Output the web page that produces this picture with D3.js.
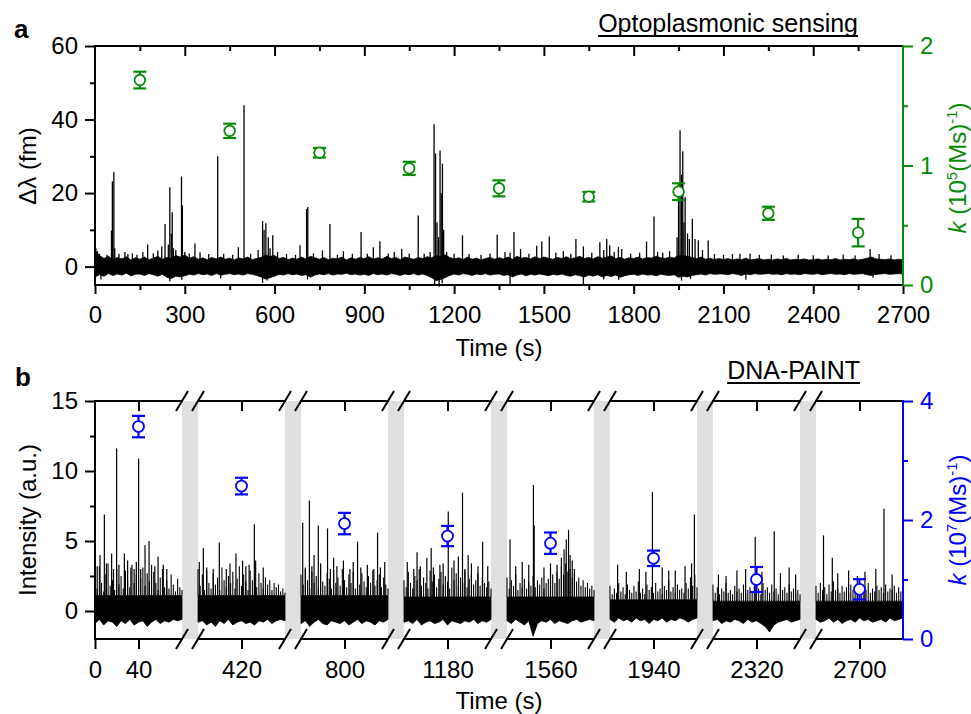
<!DOCTYPE html>
<html><head><meta charset="utf-8">
<script src="https://cdn.jsdelivr.net/npm/d3@7"></script>
<style>body{margin:0;background:#fff} svg text{font-family:"Liberation Sans",Arial,sans-serif}</style>
</head><body><svg id="c" width="971" height="714"></svg>
<script>
// ---------------- DATA ----------------
// Panel a (optoplasmonic sensing)
const aTicks = [0,300,600,900,1200,1500,1800,2100,2400,2700];
const aMinorTicks = [150,450,750,1050,1350,1650,1950,2250,2550];
const aYTicks = [0,20,40,60];
const aYMinor = [10,30,50];
const aKTicks = [0,1,2];
const aKMinor = [0.5,1.5];
const aNoiseStep = 15; // s between envelope samples (upper / lower edge of the noise)
const aNoiseHi = [
  4.5,3.0,2.2,2.8,1.9,2.5,2.1,2.7,1.8,2.4, 2.0,2.6,1.9,2.3,2.8,2.0,2.5,2.2,3.0,2.6,
  3.2,2.3,2.7,2.0,2.4,1.9,2.5,2.1,2.6,2.0, 2.3,1.8,2.4,2.1,2.6,1.9,2.2,2.5,3.2,2.8,
  3.0,2.2,2.5,1.9,2.3,2.0,2.6,2.1,2.8,2.4, 2.0,2.5,1.9,2.3,2.1,2.6,1.8,2.4,2.0,2.5,
  2.2,2.7,2.0,2.4,2.1,2.8,2.2,2.5,1.9,2.6, 2.3,2.0,2.5,2.2,2.7,2.4,3.0,2.8,3.2,2.5,
  2.1,2.4,1.9,2.6,2.0,2.3,1.8,2.2,2.5,2.0, 2.4,2.1,2.6,2.0,2.8,2.3,2.5,2.1,2.7,2.2,
  2.6,2.3,2.0,2.5,2.2,2.7,2.1,2.4,2.8,2.2, 2.5,2.1,2.7,2.3,2.6,2.9,2.2,2.5,2.0,2.4,
  2.2,2.6,2.1,2.5,2.3,2.8,2.4,2.2,2.6,2.3, 3.2,3.0,2.8,2.5,2.2,2.6,2.0,2.3,1.9,2.2,
  1.9,2.2,1.8,2.1,1.9,2.3,1.8,2.0,2.2,1.8, 2.0,1.8,2.1,1.9,2.2,1.8,2.0,1.9,2.1,1.8,
  1.9,2.1,1.8,2.0,1.9,2.2,1.8,2.0,1.9,2.1, 1.8,2.0,2.3,2.6,2.1,2.0,1.9,2.1,1.8,2.0, 1.9];
const aNoiseLo = [
  -2.8,-2.2,-2.6,-1.9,-2.4,-2.0,-2.3,-1.8,-2.5,-2.1, -2.0,-2.4,-1.9,-2.2,-2.6,-2.1,-2.9,-3.2,-2.6,-2.8,
  -2.5,-2.1,-2.3,-1.9,-2.2,-2.0,-2.4,-1.9,-2.3,-2.1, -1.9,-2.2,-2.0,-2.3,-1.9,-2.1,-2.4,-2.8,-3.4,-3.0,
  -2.6,-2.1,-2.3,-1.9,-2.2,-2.0,-2.4,-2.2,-2.9,-2.3, -2.0,-2.2,-1.9,-2.3,-2.0,-2.1,-1.8,-2.2,-2.0,-2.3,
  -2.1,-2.4,-1.9,-2.2,-2.0,-2.3,-1.9,-2.1,-2.4,-2.0, -2.2,-1.9,-2.3,-2.0,-2.4,-3.0,-3.8,-3.5,-3.0,-2.4,
  -2.0,-2.3,-1.9,-2.1,-2.4,-2.0,-2.2,-1.9,-2.3,-2.1, -2.0,-2.4,-2.2,-2.8,-2.3,-2.0,-2.5,-2.1,-2.3,-2.0,
  -2.2,-2.5,-2.1,-2.3,-2.0,-2.4,-2.6,-2.2,-2.5,-2.8, -2.3,-2.6,-2.2,-2.8,-2.4,-2.7,-2.3,-2.9,-2.5,-2.2,
  -2.1,-2.4,-2.0,-2.3,-2.2,-2.5,-2.1,-2.3,-2.4,-2.2, -2.9,-2.6,-2.8,-2.4,-2.2,-2.0,-2.3,-1.9,-2.1,-2.0,
  -2.0,-2.2,-1.9,-2.1,-2.4,-2.0,-2.2,-1.9,-2.1,-2.0, -1.9,-2.1,-2.0,-2.2,-1.9,-2.1,-2.0,-2.2,-1.9,-2.0,
  -2.1,-1.9,-2.2,-2.0,-1.9,-2.1,-2.0,-2.2,-1.9,-2.1, -2.0,-1.9,-2.2,-2.4,-2.1,-2.0,-1.9,-2.1,-2.0,-1.9, -2.0];
const aSpikes = [[3,4.9],[8,4.2],[15,3.5],[40,3.2],[55,9.8],[58,23.2],[63,25.7],[66,5],[80,3.5],[100,4],[110,3.4],
  [125,3.6],[140,3.2],[160,4.0],[176,6.0],[195,3.6],[210,4.4],[223,5.5],[234,11.6],[245,6],[250,21.6],[255,9],
  [258,14.8],[262,5],[270,4.5],[289,24.5],[292,16.6],[300,4],[315,3.6],[334,6.3],[351,3.9],[380,3.4],[410,30],
  [430,3.5],[460,3.2],[479,5.3],[498,43.9],[520,3.5],[545,4.5],[560,12.4],[565,10],[571,11.8],[579,8],[585,5],
  [594,8.5],[610,4],[640,3.4],[670,3.2],[685,5.8],[707,15.7],[711,16.2],[730,3.6],[760,4.4],[785,11.6],[810,3.2],
  [830,4.2],[860,3.5],[889,9.4],[910,3.5],[930,5.3],[952,6.9],[980,3.6],[1000,4.0],[1025,4.8],[1050,3.6],
  [1080,13.9],[1100,3.5],[1120,4],[1133,38.7],[1138,30.8],[1143,12],[1148,8],[1153,31.6],[1157,20],[1161,28],
  [1165,10],[1175,4],[1200,3.5],[1228,8.5],[1250,3.4],[1290,3.2],[1320,3.6],[1344,8.7],[1370,4],[1387,3.8],
  [1400,9.4],[1422,4.8],[1450,3.5],[1476,5.7],[1493,6.8],[1518,8.2],[1540,3.8],[1565,4.2],[1590,3.5],[1607,7.5],
  [1632,5.5],[1660,3.8],[1687,6.6],[1700,4.5],[1710,7.5],[1720,5.8],[1735,4],[1749,5.3],[1760,4.8],[1790,3.5],
  [1820,3.8],[1843,6.8],[1868,13.6],[1880,4],[1897,3.8],[1920,4.2],[1945,8],[1950,20],[1955,37.1],[1960,25],
  [1964,31.4],[1968,12],[1972,18.9],[1980,9],[1986,7.5],[1996,13],[2005,7.5],[2016,7.2],[2030,4.5],[2049,7.1],
  [2070,3.4],[2100,3.2],[2130,3.4],[2155,3.5],[2189,3.6],[2220,3.2],[2260,3.3],[2300,3.0],[2350,3.2],[2400,3.1],
  [2450,3.0],[2500,3.3],[2540,3.0],[2590,4.8],[2620,3.4],[2660,3.1],
  [20,-3.5],[250,-4],[290,-3.6],[420,-3.2],[560,-4.4],[575,-3.8],[710,-3.5],[1135,-5.2],[1150,-5.5],[1160,-4.5],
  [1387,-4.7],[1632,-5.2],[1700,-3.5],[1750,-3.6],[1960,-3.8],[1990,-3.4],[2175,-3.6],[2600,-3.0]];
const aRateT = [150,450,750,1050,1350,1650,1950,2250,2550];
const aRate = [1.715,1.29,1.107,0.976,0.809,0.739,0.781,0.600,0.438];
const aRateErr = [0.07,0.06,0.04,0.055,0.067,0.04,0.07,0.055,0.115];

// Panel b (DNA-PAINT), broken time axis
const bSegStart = [0,380,760,1140,1520,1900,2280,2660];
const bSegLen = 80;
const bTicks = [0,40,420,800,1180,1560,1940,2320,2700];
const bYTicks = [0,5,10,15];
const bYMinor = [2.5,7.5,12.5];
const bKTicks = [0,2,4];
const bKMinor = [1,3];
const bCore = [1.1,1.1,1.1,1.0,1.0,0.8,0.7,0.7];   // top of the dense noise core, per segment
const bHiStep = 2;  // s, samples of the noise fringe above the core
const bLoStep = 4;  // s, lower edge samples
const bNoiseHi = [
  [2.8,1.6,3.2,2.0,1.4,2.6,3.4,1.8,2.2,1.5,3.0,1.9,2.5,1.6,2.9,2.2,1.7,3.3,2.0,2.6,1.5,2.3,3.1,1.8,2.7,2.1,1.6,2.8,2.0,1.5,2.4,3.0,1.7,2.2,1.6,2.6,1.9,1.4,2.3,1.7,1.5],
  [3.0,1.8,2.6,1.5,2.9,2.0,1.6,2.7,1.9,2.4,1.5,3.1,2.2,1.7,2.5,2.0,2.8,1.6,2.3,3.2,1.8,2.6,2.1,1.5,2.9,2.2,2.5,1.7,2.7,2.0,1.6,2.4,1.9,2.2,1.5,2.0,1.7,1.9,1.4,1.6,1.3],
  [2.6,1.9,3.1,2.2,1.6,2.8,2.0,2.5,1.7,3.2,2.1,1.8,2.7,2.3,1.6,2.9,2.0,2.4,1.8,3.0,2.2,1.7,2.6,2.0,2.8,1.6,2.3,1.9,2.7,2.1,1.7,2.5,2.0,2.9,1.8,2.2,2.6,1.7,2.4,1.9,1.6],
  [2.2,1.7,2.8,2.0,1.6,2.5,2.2,3.0,1.8,2.4,2.0,1.6,2.9,2.1,2.6,1.7,2.3,2.8,1.9,2.5,2.1,1.6,3.1,2.2,2.7,1.8,2.4,2.0,2.9,1.7,2.3,2.6,1.9,2.2,2.7,1.8,2.4,2.0,1.7,2.1,1.6],
  [2.4,1.6,2.2,1.8,2.6,1.5,2.0,1.7,2.3,1.6,2.1,1.8,2.5,1.7,2.2,1.9,2.4,1.6,2.0,2.3,1.8,2.6,2.0,2.8,2.3,3.2,2.6,3.4,2.8,3.0,2.4,2.7,2.1,2.4,1.8,2.2,1.7,2.0,1.6,1.8,1.5],
  [1.8,1.2,1.6,1.3,2.0,1.4,1.7,1.2,1.9,1.5,1.3,1.8,1.4,2.1,1.3,1.6,1.2,1.9,1.5,1.7,1.3,2.0,1.4,1.6,1.2,1.8,1.5,2.2,1.4,1.7,1.3,1.9,1.5,1.6,1.3,2.0,1.6,2.4,1.8,2.6,1.7],
  [1.9,1.3,1.7,1.2,1.6,1.4,2.0,1.3,1.5,1.2,1.8,1.4,1.6,1.3,1.9,1.2,1.5,1.7,1.3,1.8,1.4,1.6,1.2,2.0,1.5,1.7,1.3,1.9,1.4,1.6,1.2,1.8,1.5,1.7,1.3,1.9,1.4,1.6,1.3,1.5,1.2],
  [1.8,1.3,2.0,1.5,1.7,1.2,1.9,1.4,2.1,1.5,1.6,1.3,1.8,1.4,1.7,1.3,1.9,1.5,1.6,1.2,1.8,1.4,1.7,1.5,2.0,1.3,1.6,1.4,1.8,1.5,1.7,1.3,1.9,1.4,1.6,1.5,1.8,1.3,1.7,1.4,1.5]];
const bNoiseLo = [
  [-0.9,-0.6,-1.0,-0.7,-0.8,-1.1,-0.7,-0.9,-0.6,-1.0,-0.8,-0.7,-1.1,-0.8,-0.6,-0.9,-0.7,-0.8,-0.6,-0.7,-0.6],
  [-0.8,-0.7,-1.0,-0.8,-1.1,-0.7,-0.9,-0.6,-1.0,-0.8,-0.7,-0.9,-0.8,-1.0,-0.7,-0.8,-0.6,-0.9,-0.7,-0.6,-0.7],
  [-0.9,-0.7,-1.1,-0.8,-0.6,-0.9,-1.0,-0.7,-0.8,-0.9,-0.7,-1.0,-0.8,-0.6,-0.9,-0.7,-0.8,-1.0,-0.7,-0.8,-0.6],
  [-0.8,-0.7,-0.9,-0.6,-1.0,-0.8,-0.7,-0.9,-0.8,-0.6,-1.0,-0.7,-0.8,-0.9,-0.7,-0.8,-0.6,-0.9,-0.7,-0.8,-0.6],
  [-0.7,-0.9,-0.6,-0.8,-1.0,-0.7,-1.8,-0.9,-0.7,-0.8,-0.6,-0.9,-0.7,-0.8,-0.9,-0.7,-0.6,-0.8,-0.7,-0.6,-0.7],
  [-0.6,-0.8,-0.5,-0.7,-0.6,-0.8,-0.5,-0.7,-0.6,-0.9,-0.6,-0.7,-0.5,-0.8,-0.6,-0.7,-0.5,-0.6,-0.8,-0.6,-0.5],
  [-0.7,-0.6,-0.9,-0.7,-0.8,-0.6,-0.7,-0.9,-0.6,-0.8,-0.7,-0.9,-1.1,-1.5,-1.0,-0.8,-0.7,-0.6,-0.8,-0.7,-0.6],
  [-0.6,-0.8,-0.7,-0.5,-0.8,-0.6,-0.9,-0.7,-0.6,-0.8,-0.5,-0.7,-0.6,-0.8,-0.7,-0.6,-0.8,-0.5,-0.7,-0.6,-0.5]];
// spikes per segment: [local time (s), intensity]
const bSpikes = [
  [[2,3.2],[4.6,4.0],[8.6,6.9],[10.5,3.4],[15.3,4.1],[17,3.0],[19.9,11.6],[22,3.3],[27,4.1],[30,3.6],[33,3.1],[36,3.0],
   [38,3.5],[40.1,10.9],[42,3.0],[46,4.7],[49.7,5.0],[52,3.3],[55,3.2],[58,3.9],[62.8,3.3],[66,3.0]],
  [[1.2,3.5],[4.9,4.5],[8,3.1],[14,3.0],[19.6,4.9],[26,3.0],[29.4,3.4],[34.9,4.1],[41,3.6],[44,3.2],[47,3.3],
   [51.8,6.2],[53,3.6],[60,3.1]],
  [[1.6,6.3],[4,3.0],[7.7,7.9],[10,3.2],[12,4.0],[15.9,6.1],[18,3.4],[24.4,5.9],[27,3.0],[30,3.8],[33,3.2],[39,3.6],
   [45,3.0],[48,3.5],[52,4.95],[55,3.1],[61,3.3],[67,3.0],[70.4,5.6],[73,3.1],[77,3.5]],
  [[3,3.5],[9,3.0],[12,4.2],[15,3.2],[21,3.8],[25,4.5],[27,3.1],[33,3.3],[36,3.4],[40.7,7.1],[46,3.6],[50,3.9],
   [53.8,8.45],[56,3.0],[59,4.0],[62,3.4],[68,3.2],[72.3,4.95],[77,3.2]],
  [[2.8,5.1],[8,3.2],[14,3.5],[20,3.3],[24.3,9.0],[25,6.1],[34,3.1],[40,3.4],[46,3.3],[50,3.8],[52.5,4.4],[54.5,5.1],
   [56.6,5.8],[58,4.0],[60,3.6],[62,3.0],[24.5,-1.4]],
  [[7,3.3],[15,2.8],[27,3.0],[33,2.8],[39,8.5],[48,3.1],[54,2.9],[60,2.9],[69,3.2],[75,3.4],[77.6,6.9]],
  [[5,2.6],[12,2.5],[22,2.9],[30,3.0],[38.8,5.3],[45,2.8],[55,-1.1],[56.3,5.7],[62,2.7],[70,3.1],[76,2.6]],
  [[6.9,5.4],[15,3.8],[20,2.7],[30,2.9],[38,2.5],[45,2.8],[55,3.0],[62.5,7.3],[70,2.6]]];
const bRateT = [40,420,800,1180,1560,1940,2320,2700];
const bRate = [3.57,2.57,1.94,1.73,1.61,1.356,1.00,0.835];
const bRateErr = [0.18,0.14,0.18,0.17,0.18,0.13,0.21,0.17];

// ---------------- DRAWING ----------------
const svg = d3.select("#c");
const GREEN = "#0a8a0a", BLUE = "#0000ff";
const FS = "24px";
const AX_W = 2;

function styleAxis(g, color){
  g.select(".domain").remove();
  g.selectAll(".tick line").attr("stroke", color).attr("stroke-width", AX_W);
  g.selectAll(".tick text").attr("fill", color).style("font-size", FS);
}
function hline(g, x1, x2, y, color){ g.append("line").attr("x1",x1).attr("x2",x2).attr("y1",y).attr("y2",y).attr("stroke",color||"#000").attr("stroke-width",AX_W).attr("stroke-linecap","square"); }
function vline(g, x, y1, y2, color){ g.append("line").attr("x1",x).attr("x2",x).attr("y1",y1).attr("y2",y2).attr("stroke",color||"#000").attr("stroke-width",AX_W).attr("stroke-linecap","square"); }

// ===== Panel a =====
const AL = 95, AR = 903, AT = 46, AB = 285;
const xA = d3.scaleLinear().domain([0,2700]).range([AL,AR]);
const yA = d3.scaleLinear().domain([-5,60]).range([AB,AT]);
const kA = d3.scaleLinear().domain([0,2]).range([AB,AT]);
const gA = svg.append("g");

const areaA = d3.area()
  .x((d,i)=>xA(i*aNoiseStep))
  .y0((d,i)=>yA(aNoiseLo[i]))
  .y1(d=>yA(d));
gA.append("path").datum(aNoiseHi).attr("d", areaA).attr("fill","#000").attr("stroke","#000").attr("stroke-width",0.8);
gA.selectAll("line.sp").data(aSpikes).join("line").attr("class","sp")
  .attr("x1",d=>xA(d[0])).attr("x2",d=>xA(d[0]))
  .attr("y1",yA(0)).attr("y2",d=>yA(d[1]))
  .attr("stroke","#000").attr("stroke-width",1.3);

const gAr = gA.append("g").attr("stroke",GREEN).attr("stroke-width",2.2).attr("fill","none");
aRateT.forEach((t,i)=>{
  const x = xA(t), y0 = kA(aRate[i]-aRateErr[i]), y1 = kA(aRate[i]+aRateErr[i]);
  gAr.append("line").attr("x1",x).attr("x2",x).attr("y1",y0).attr("y2",y1);
  gAr.append("line").attr("x1",x-6.5).attr("x2",x+6.5).attr("y1",y0).attr("y2",y0);
  gAr.append("line").attr("x1",x-6.5).attr("x2",x+6.5).attr("y1",y1).attr("y2",y1);
  gAr.append("circle").attr("cx",x).attr("cy",kA(aRate[i])).attr("r",5.3).attr("fill","#fff").attr("stroke-width",1.8);
});

styleAxis(gA.append("g").attr("transform",`translate(0,${AB})`).call(d3.axisBottom(xA).tickValues(aTicks).tickSize(9).tickPadding(12).tickFormat(d3.format("d"))), "#000");
styleAxis(gA.append("g").attr("transform",`translate(0,${AB})`).call(d3.axisBottom(xA).tickValues(aMinorTicks).tickSize(5).tickFormat("")), "#000");
styleAxis(gA.append("g").attr("transform",`translate(0,${AT})`).call(d3.axisBottom(xA).tickValues(aTicks.slice(1,-1)).tickSize(10).tickFormat("")), "#000");
styleAxis(gA.append("g").attr("transform",`translate(0,${AT})`).call(d3.axisBottom(xA).tickValues(aMinorTicks).tickSize(5).tickFormat("")), "#000");
styleAxis(gA.append("g").attr("transform",`translate(${AL},0)`).call(d3.axisLeft(yA).tickValues(aYTicks).tickSize(10).tickPadding(7).tickFormat(d3.format("d"))), "#000");
styleAxis(gA.append("g").attr("transform",`translate(${AL},0)`).call(d3.axisLeft(yA).tickValues(aYMinor).tickSize(5).tickFormat("")), "#000");
styleAxis(gA.append("g").attr("transform",`translate(${AR},0)`).call(d3.axisRight(kA).tickValues(aKTicks).tickSize(10).tickPadding(7).tickFormat(d3.format("d"))), GREEN);
styleAxis(gA.append("g").attr("transform",`translate(${AR},0)`).call(d3.axisRight(kA).tickValues(aKMinor).tickSize(5).tickFormat("")), GREEN);
hline(gA, AL, AR, AT); hline(gA, AL, AR, AB); vline(gA, AL, AT, AB); vline(gA, AR, AT, AB, GREEN);

gA.append("text").attr("x",499).attr("y",356).attr("text-anchor","middle").style("font-size",FS).text("Time (s)");
gA.append("text").attr("transform","translate(36,166) rotate(-90)").attr("text-anchor","middle").style("font-size",FS).text("Δλ (fm)");
const kTxtA = gA.append("text").attr("transform","translate(966,168) rotate(-90)").attr("text-anchor","middle").style("font-size",FS).attr("fill",GREEN);
kTxtA.append("tspan").style("font-style","italic").text("k");
kTxtA.append("tspan").text(" (10");
kTxtA.append("tspan").attr("dy",-9).style("font-size","15px").text("5");
kTxtA.append("tspan").attr("dy",9).text("(Ms)");
kTxtA.append("tspan").attr("dy",-9).style("font-size","15px").text("-1");
kTxtA.append("tspan").attr("dy",9).text(")");
gA.append("text").attr("x",14).attr("y",38).style("font-size","26px").style("font-weight","bold").text("a");
const tA = gA.append("text").attr("x",858).attr("y",32).attr("text-anchor","end").style("font-size","25px").text("Optoplasmonic sensing");
const bbA = tA.node().getBBox();
gA.append("line").attr("x1",bbA.x).attr("x2",bbA.x+bbA.width).attr("y1",36).attr("y2",36).attr("stroke","#000").attr("stroke-width",1.8);

// ===== Panel b =====
const BL = 95, BR = 903, BT = 401, BB = 639;
const SEGW = 87, GAPW = 16;
const yB = d3.scaleLinear().domain([-2,15]).range([BB,BT]);
const kB = d3.scaleLinear().domain([0,4]).range([BB,BT]);
const xSeg = bSegStart.map((s,i)=>d3.scaleLinear().domain([s, s+bSegLen]).range([BL+i*(SEGW+GAPW), BL+i*(SEGW+GAPW)+SEGW]));
function segOf(t){ return bSegStart.findIndex(s=>t>=s && t<=s+bSegLen); }
const gB = svg.append("g");

for(let i=0;i<bSegStart.length-1;i++){
  const x0 = xSeg[i].range()[1], x1 = xSeg[i+1].range()[0];
  gB.append("rect").attr("x",x0).attr("y",BT).attr("width",x1-x0).attr("height",BB-BT).attr("fill","#e0e0e0");
}
bSegStart.forEach((s,i)=>{
  // dense core: from lower edge up to the core level
  const ar = d3.area().x((d,j)=>xSeg[i](s+j*bLoStep)).y0(d=>yB(d)).y1(yB(bCore[i]));
  gB.append("path").datum(bNoiseLo[i]).attr("d",ar).attr("fill","#000").attr("stroke","#000").attr("stroke-width",0.8);
  // fringe of the noise above the core
  gB.selectAll(null).data(bNoiseHi[i]).join("line")
    .attr("x1",(d,j)=>xSeg[i](s+j*bHiStep)).attr("x2",(d,j)=>xSeg[i](s+j*bHiStep))
    .attr("y1",yB(bCore[i])).attr("y2",d=>yB(d))
    .attr("stroke","#000").attr("stroke-width",1.1);
  // larger events
  gB.selectAll(null).data(bSpikes[i]).join("line")
    .attr("x1",d=>xSeg[i](s+d[0])).attr("x2",d=>xSeg[i](s+d[0]))
    .attr("y1",yB(0.5)).attr("y2",d=>yB(d[1]))
    .attr("stroke","#000").attr("stroke-width",1.2);
});
const gBr = gB.append("g").attr("stroke",BLUE).attr("stroke-width",2.2).attr("fill","none");
bRateT.forEach((t,i)=>{
  const x = xSeg[segOf(t)](t), y0 = kB(bRate[i]-bRateErr[i]), y1 = kB(bRate[i]+bRateErr[i]);
  gBr.append("line").attr("x1",x).attr("x2",x).attr("y1",y0).attr("y2",y1);
  gBr.append("line").attr("x1",x-6.5).attr("x2",x+6.5).attr("y1",y0).attr("y2",y0);
  gBr.append("line").attr("x1",x-6.5).attr("x2",x+6.5).attr("y1",y1).attr("y2",y1);
  gBr.append("circle").attr("cx",x).attr("cy",kB(bRate[i])).attr("r",5.5).attr("fill","#fff").attr("stroke-width",1.8);
});
bSegStart.forEach((s,i)=>{
  const tv = bTicks.filter(t=>t>=s && t<=s+bSegLen);
  styleAxis(gB.append("g").attr("transform",`translate(0,${BB})`).call(d3.axisBottom(xSeg[i]).tickValues(tv).tickSize(10).tickPadding(12).tickFormat(d3.format("d"))), "#000");
  styleAxis(gB.append("g").attr("transform",`translate(0,${BT})`).call(d3.axisBottom(xSeg[i]).tickValues(tv.filter(t=>t>0)).tickSize(10).tickFormat("")), "#000");
  const [r0, r1] = xSeg[i].range();
  hline(gB, r0, r1, BB); hline(gB, r0, r1, BT);
  if(i < bSegStart.length-1){
    const g0 = r1, g1 = xSeg[i+1].range()[0];
    [g0, g1].forEach(cx=>[BB, BT].forEach(cy=>{
      gB.append("line").attr("x1",cx-6).attr("x2",cx+6).attr("y1",cy+10).attr("y2",cy-10).attr("stroke","#000").attr("stroke-width",2);
    }));
  }
});
styleAxis(gB.append("g").attr("transform",`translate(${BL},0)`).call(d3.axisLeft(yB).tickValues(bYTicks).tickSize(10).tickPadding(7).tickFormat(d3.format("d"))), "#000");
styleAxis(gB.append("g").attr("transform",`translate(${BL},0)`).call(d3.axisLeft(yB).tickValues(bYMinor).tickSize(5).tickFormat("")), "#000");
styleAxis(gB.append("g").attr("transform",`translate(${BR},0)`).call(d3.axisRight(kB).tickValues(bKTicks).tickSize(10).tickPadding(7).tickFormat(d3.format("d"))), BLUE);
styleAxis(gB.append("g").attr("transform",`translate(${BR},0)`).call(d3.axisRight(kB).tickValues(bKMinor).tickSize(5).tickFormat("")), BLUE);
vline(gB, BL, BT, BB); vline(gB, BR, BT, BB, BLUE);

gB.append("text").attr("x",499).attr("y",709).attr("text-anchor","middle").style("font-size",FS).text("Time (s)");
gB.append("text").attr("transform","translate(36,520) rotate(-90)").attr("text-anchor","middle").style("font-size",FS).text("Intensity (a.u.)");
const kTxtB = gB.append("text").attr("transform","translate(966,520) rotate(-90)").attr("text-anchor","middle").style("font-size",FS).attr("fill",BLUE);
kTxtB.append("tspan").style("font-style","italic").text("k");
kTxtB.append("tspan").text(" (10");
kTxtB.append("tspan").attr("dy",-9).style("font-size","15px").text("7");
kTxtB.append("tspan").attr("dy",9).text("(Ms)");
kTxtB.append("tspan").attr("dy",-9).style("font-size","15px").text("-1");
kTxtB.append("tspan").attr("dy",9).text(")");
gB.append("text").attr("x",15).attr("y",386).style("font-size","26px").style("font-weight","bold").text("b");
const tB = gB.append("text").attr("x",860).attr("y",379).attr("text-anchor","end").style("font-size","25px").text("DNA-PAINT");
const bbB = tB.node().getBBox();
gB.append("line").attr("x1",bbB.x).attr("x2",bbB.x+bbB.width).attr("y1",383).attr("y2",383).attr("stroke","#000").attr("stroke-width",1.8);
</script>
</body></html>
